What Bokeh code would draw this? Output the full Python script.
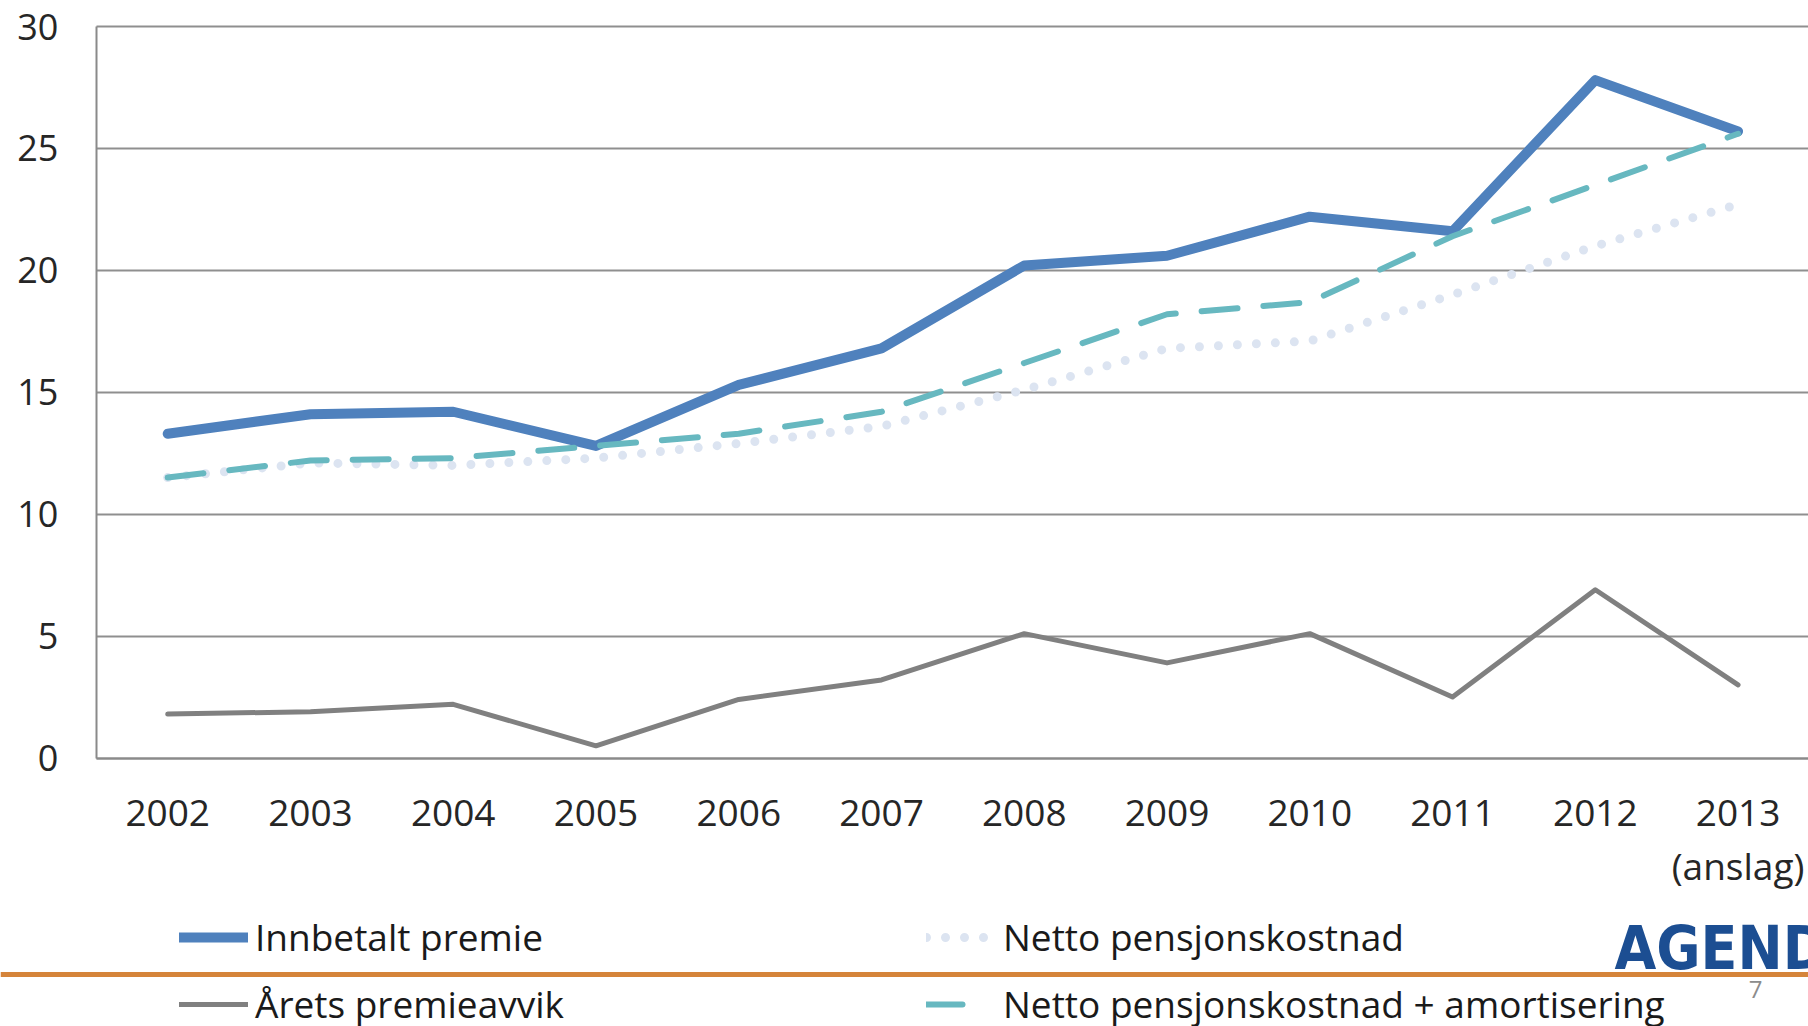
from bokeh.plotting import figure
from bokeh.models import Range1d, LinearAxis, FixedTicker, Grid, Legend, LegendItem, Span, Label
from bokeh.embed import file_html
from bokeh.resources import INLINE

# ---------------- data ----------------
years = ["2002", "2003", "2004", "2005", "2006", "2007", "2008",
         "2009", "2010", "2011", "2012", "2013\n(anslag)"]
innbetalt_premie = [13.3, 14.1, 14.2, 12.8, 15.3, 16.8, 20.2, 20.6, 22.2, 21.6, 27.8, 25.7]
arets_premieavvik = [1.8, 1.9, 2.2, 0.5, 2.4, 3.2, 5.1, 3.9, 5.1, 2.5, 6.9, 3.0]
netto_pensjonskostnad = [11.5, 12.1, 12.0, 12.3, 12.9, 13.6, 15.1, 16.8, 17.1, 19.0, 21.0, 22.7]
netto_amortisering = [11.5, 12.2, 12.3, 12.8, 13.3, 14.2, 16.2, 18.2, 18.7, 21.4, 23.5, 25.6]
y_ticks = [0, 5, 10, 15, 20, 25, 30]

# ---------------- layout (pixels) ----------------
W, H = 1808, 1026
X0_PX = 167.2      # x pixel of first category centre
STEP = 142.76      # pixels per category
Y0_PX = 757.5      # y pixel (from top) of value 0
YS = 24.383        # pixels per unit

x_start = -X0_PX / STEP
x_end = x_start + W / STEP
y_top = Y0_PX / YS
y_bottom = -(H - Y0_PX) / YS


def px_x(px):
    return x_start + px / STEP


def px_y(py):
    return (Y0_PX - py) / YS


FONT = "Open Sans"
TXT = "#262626"

p = figure(width=W, height=H, x_range=Range1d(x_start, x_end), y_range=Range1d(y_bottom, y_top),
           x_axis_type=None, y_axis_type=None, toolbar_location=None, output_backend="svg",
           min_border=0, min_border_left=0, min_border_right=0, min_border_top=0, min_border_bottom=0,
           outline_line_color=None, background_fill_color="white", border_fill_color="white")

xs = list(range(len(years)))

grid = Grid(dimension=1, ticker=FixedTicker(ticks=y_ticks), grid_line_color="#8f8f8f",
            grid_line_width=2, cross_bounds=(-0.5, x_end))
p.add_layout(grid)

r_blue = p.line(xs, innbetalt_premie, line_color="#4F81BD", line_width=10,
                line_join="round", line_cap="round")
r_gray = p.line(xs, arets_premieavvik, line_color="#808080", line_width=5,
                line_join="round", line_cap="round")
r_dot = p.line(xs, netto_pensjonskostnad, line_color="#DCE4F1", line_width=9,
               line_dash="0 19", line_cap="round", line_join="round")
r_teal = p.line(xs, netto_amortisering, line_color="#67B8C0", line_width=6,
                line_dash="36 26", line_cap="round", line_join="round")

xaxis = LinearAxis(fixed_location=0, bounds=(-0.5, x_end), ticker=FixedTicker(ticks=xs),
                   major_label_overrides={i: y for i, y in enumerate(years)},
                   axis_line_color="#8a8a8a", axis_line_width=2,
                   major_tick_out=0, major_tick_in=0, minor_tick_out=0, minor_tick_in=0,
                   major_label_text_font=FONT, major_label_text_font_size="37px",
                   major_label_text_color=TXT, major_label_standoff=28,
                   major_label_text_line_height=1.05)
p.add_layout(xaxis, "below")

yaxis = LinearAxis(fixed_location=-0.5, bounds=(0, 30), ticker=FixedTicker(ticks=y_ticks),
                   axis_line_color="#8a8a8a", axis_line_width=2,
                   major_tick_out=0, major_tick_in=0, minor_tick_out=0, minor_tick_in=0,
                   major_label_text_font=FONT, major_label_text_font_size="36px",
                   major_label_text_color=TXT, major_label_standoff=38)
p.add_layout(yaxis, "left")

leg_common = dict(padding=0, margin=0, border_line_color=None, background_fill_alpha=0,
                  glyph_height=44, spacing=16, label_text_font=FONT,
                  label_text_font_size="37px", label_text_color="#1a1a1a")

leg1 = Legend(items=[LegendItem(label="Innbetalt premie", renderers=[r_blue]),
                     LegendItem(label="Årets premieavvik", renderers=[r_gray])],
              location=(179, -3), glyph_width=69, label_standoff=7, **leg_common)
leg2 = Legend(items=[LegendItem(label="Netto pensjonskostnad", renderers=[r_dot]),
                     LegendItem(label="Netto pensjonskostnad + amortisering", renderers=[r_teal])],
              location=(926, -3), glyph_width=62, label_standoff=15, **leg_common)
p.add_layout(leg1)
p.add_layout(leg2)

p.add_layout(Span(location=px_y(974), dimension="width", line_color="#D5843A", line_width=5))

p.add_layout(Label(x=px_x(1614), y=px_y(947), text="AGENDA",
                   text_font="DejaVu Sans Condensed, Roboto, sans-serif", text_font_style="bold",
                   text_font_size="60px", text_color="#1C4E92", text_baseline="alphabetic"))
p.add_layout(Label(x=px_x(1755), y=px_y(989), text="7", text_font=FONT,
                   text_font_size="24px", text_color="#8c8c8c", text_align="center",
                   text_baseline="middle"))

open("out.html", "w").write(file_html(p, INLINE))
